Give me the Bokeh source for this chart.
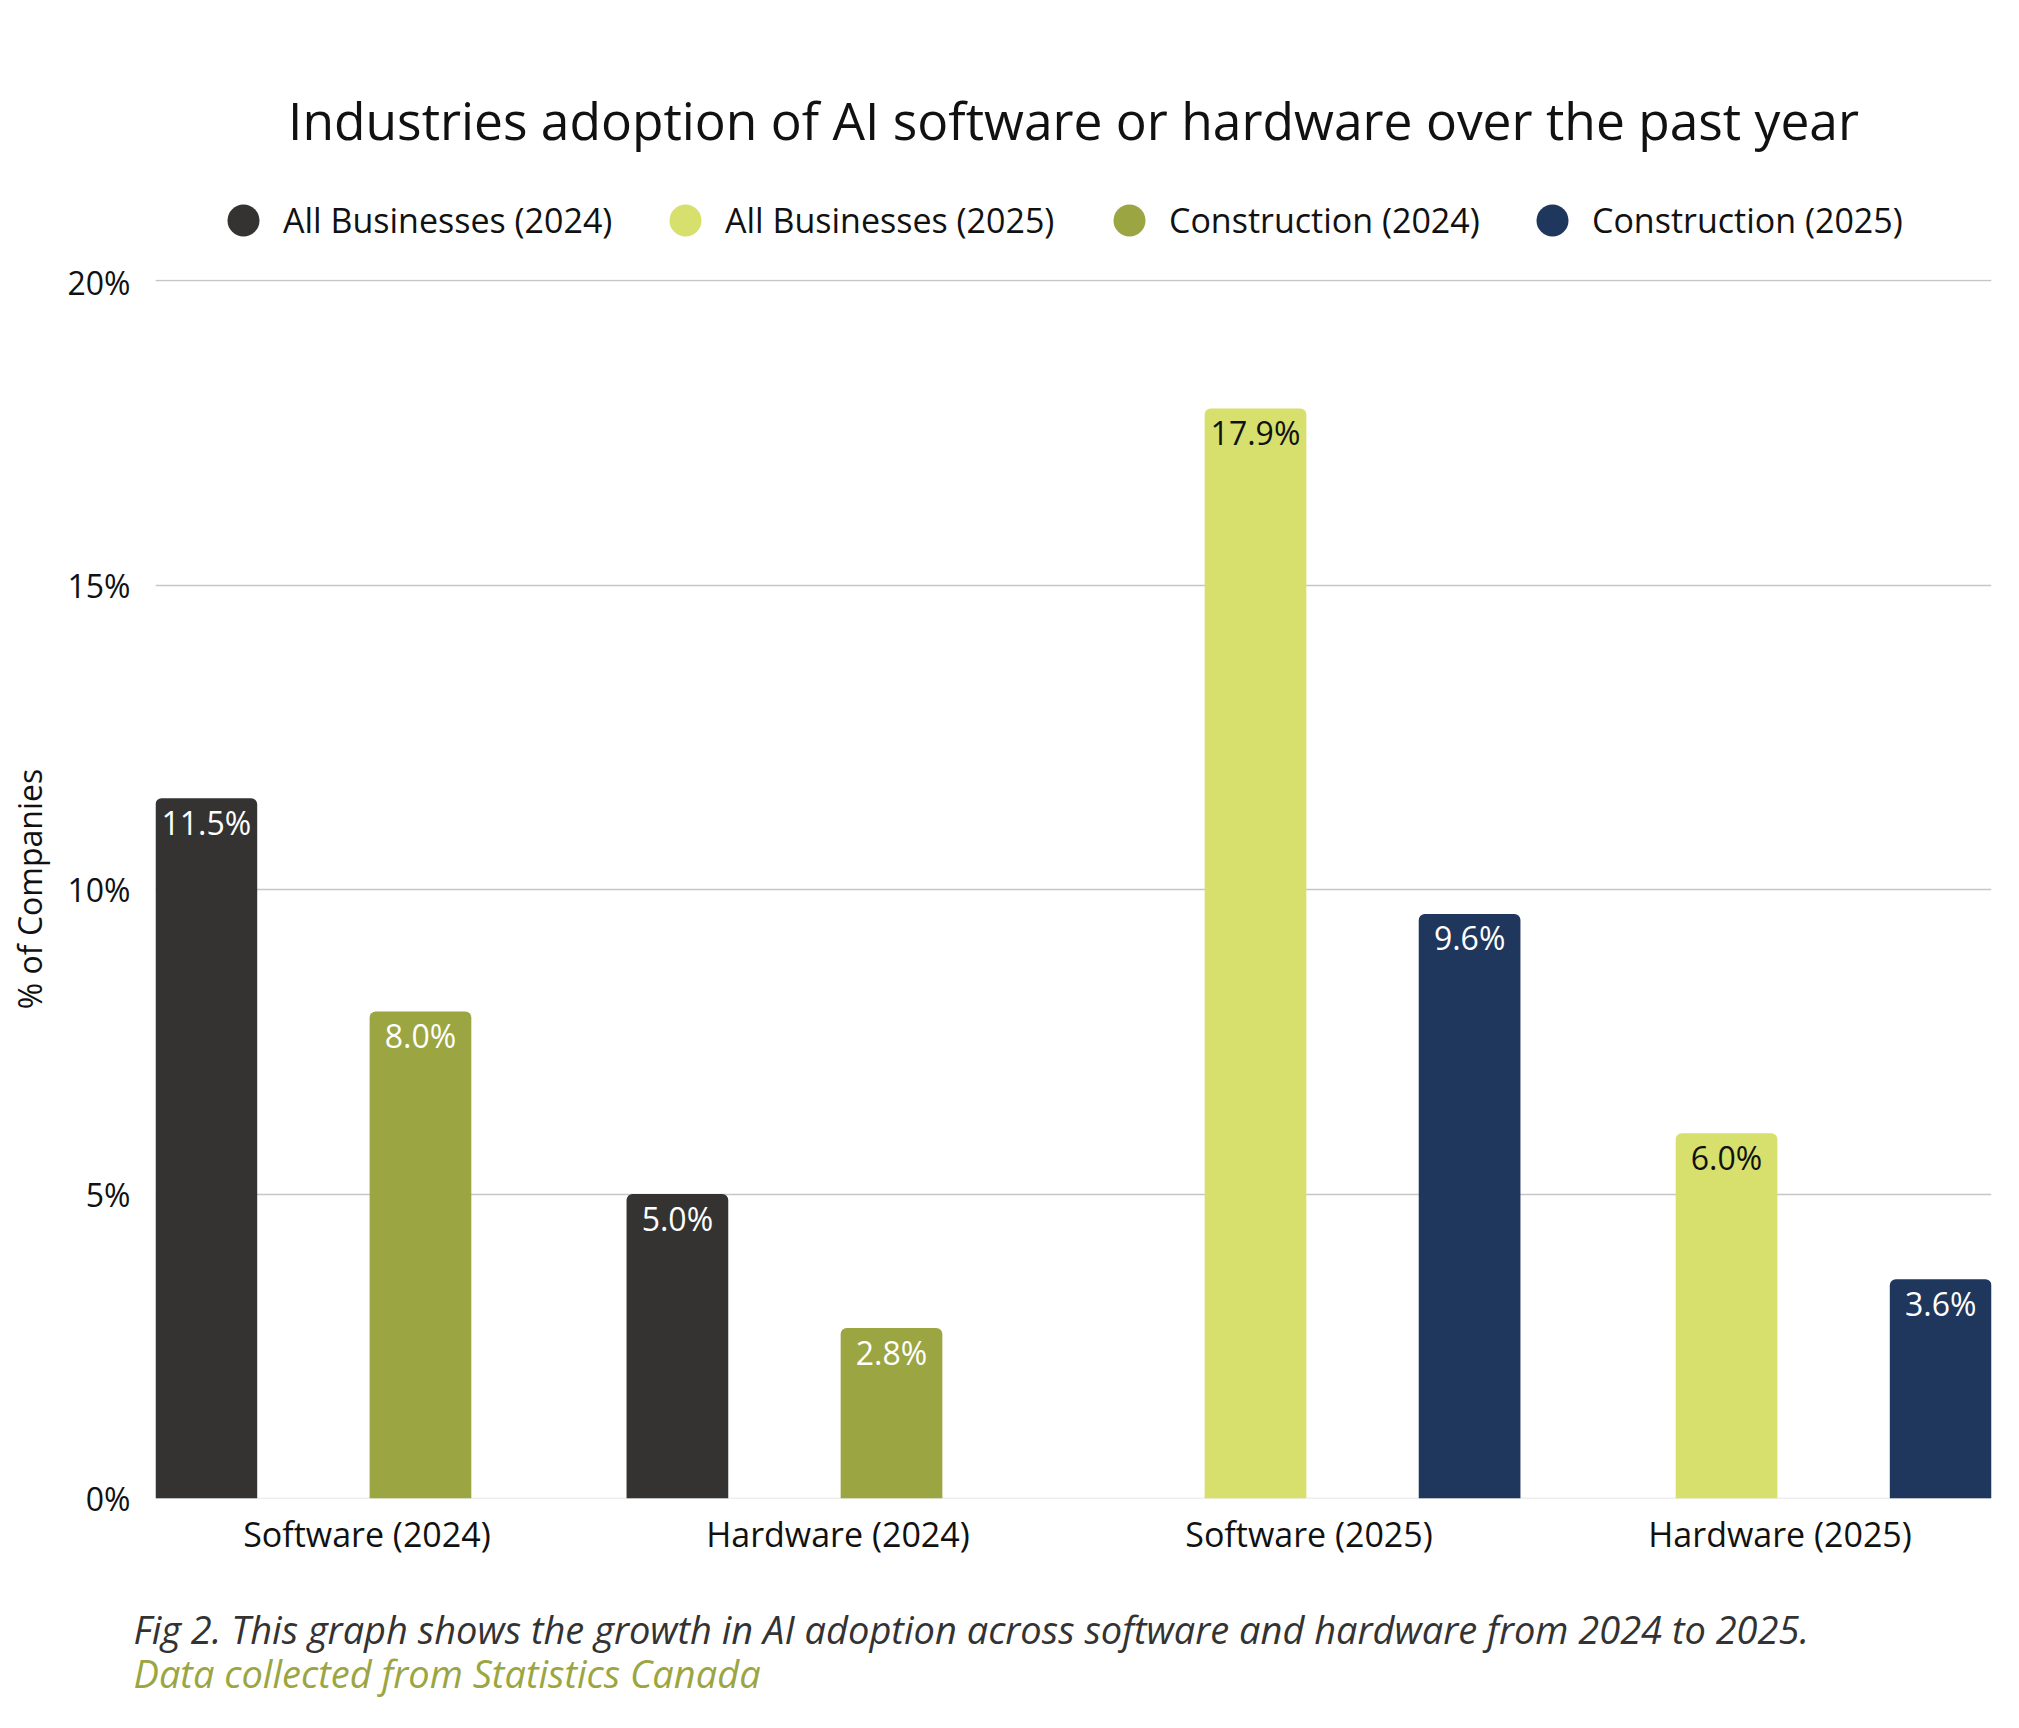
from bokeh.plotting import figure
from bokeh.layouts import column
from bokeh.models import (ColumnDataSource, FixedTicker, Legend, LegendItem, Label,
                          Span, PrintfTickFormatter)
from bokeh.core.properties import value
from bokeh.embed import file_html
from bokeh.resources import INLINE

# ---------------- data ----------------
categories = ["Software (2024)", "Hardware (2024)", "Software (2025)", "Hardware (2025)"]
series_names = ["All Businesses (2024)", "All Businesses (2025)",
                "Construction (2024)", "Construction (2025)"]
all_businesses_2024 = [11.5, 5.0, None, None]
all_businesses_2025 = [None, None, 17.9, 6.0]
construction_2024 = [8.0, 2.8, None, None]
construction_2025 = [None, None, 9.6, 3.6]
series_values = [all_businesses_2024, all_businesses_2025, construction_2024, construction_2025]
y_ticks = [0, 5, 10, 15, 20]

title_text = "Industries adoption of AI software or hardware over the past year"
y_label = "% of Companies"
caption_1 = "Fig 2. This graph shows the growth in AI adoption across software and hardware from 2024 to 2025."
caption_2 = "Data collected from Statistics Canada"

# ---------------- style ----------------
colors = ["#343331", "#D7E06C", "#9BA541", "#1F365D"]
label_colors = ["#FFFFFF", "#111111", "#FFFFFF", "#FFFFFF"]
FONT = "Open Sans"
TEXT = "#111111"

W = 2000
HEAD_H = 260          # title + legend strip
MAIN_H = 1320         # chart
CAP_H = 132           # caption strip
FL, FR = 155, 1991    # frame left / right (px)
TOP_PAD = 19          # chart canvas top -> 20 % line
BOT_PAD = 82          # 0 % line -> chart canvas bottom
LEGEND_CX = [243, 685, 1129, 1552]   # legend swatch centres (px)

SLOTS, GAP, BAR_W = 4, 0.4, 0.95
PITCH = SLOTS + GAP
X_END = PITCH * (len(categories) - 1) + SLOTS
BAR_PAD = (1 - BAR_W) / 2
Y_END = 20.02

# ---------------- header: title + legend ----------------
head = figure(width=W, height=HEAD_H, x_range=(0, 1), y_range=(0, 1),
              output_backend="svg", toolbar_location=None,
              x_axis_type=None, y_axis_type=None,
              min_border_left=FL, min_border_right=W - FR,
              min_border_top=HEAD_H - 80, min_border_bottom=0,
              outline_line_color=None, background_fill_color="white",
              border_fill_color="white")
head.grid.visible = False
head.title.text = title_text
head.title.align = "center"
head.title.offset = 4
head.title.text_font = FONT
head.title.text_font_size = "51.5px"
head.title.text_font_style = "normal"
head.title.text_color = TEXT
head.title.standoff = 52

# ---------------- main chart ----------------
p = figure(width=W, height=MAIN_H, x_range=(BAR_PAD, X_END - BAR_PAD), y_range=(0, Y_END),
           output_backend="svg", toolbar_location=None,
           min_border_left=FL, min_border_right=W - FR,
           min_border_top=TOP_PAD, min_border_bottom=BOT_PAD,
           outline_line_color=None, background_fill_color="white",
           border_fill_color="white")

p.xgrid.visible = False
p.ygrid.ticker = FixedTicker(ticks=[t for t in y_ticks if t > 0])
p.ygrid.grid_line_color = "#c6c6c6"
p.ygrid.grid_line_width = 1.5
p.add_layout(Span(location=0, dimension="width", line_color="#dedede",
                  line_width=1.5, level="underlay"))

p.yaxis.ticker = FixedTicker(ticks=y_ticks)
p.yaxis.formatter = PrintfTickFormatter(format="%d%%")
p.yaxis.axis_line_color = None
p.yaxis.major_tick_line_color = None
p.yaxis.minor_tick_line_color = None
p.yaxis.major_tick_out = 0
p.yaxis.major_tick_in = 0
p.yaxis.major_label_text_font = FONT
p.yaxis.major_label_text_font_size = "32px"
p.yaxis.major_label_text_color = TEXT
p.yaxis.major_label_standoff = 25
p.yaxis.axis_label = y_label
p.yaxis.axis_label_text_font = FONT
p.yaxis.axis_label_text_font_size = "32px"
p.yaxis.axis_label_text_font_style = "normal"
p.yaxis.axis_label_text_color = TEXT
p.yaxis.axis_label_standoff = 13

centers = [i * PITCH + SLOTS / 2 for i in range(len(categories))]
p.xaxis.ticker = FixedTicker(ticks=centers)
p.xaxis.major_label_overrides = {c: cat for c, cat in zip(centers, categories)}
p.xaxis.axis_line_color = None
p.xaxis.major_tick_line_color = None
p.xaxis.minor_tick_line_color = None
p.xaxis.major_tick_out = 0
p.xaxis.major_tick_in = 0
p.xaxis.major_label_text_font = FONT
p.xaxis.major_label_text_font_size = "34px"
p.xaxis.major_label_text_color = TEXT
p.xaxis.major_label_standoff = 12

for s, (name, vals) in enumerate(zip(series_names, series_values)):
    xs, tops, labels = [], [], []
    for i, v in enumerate(vals):
        if v is None:
            continue
        xs.append(i * PITCH + s + 0.5)
        tops.append(v)
        labels.append(f"{v:.1f}%")
    src = ColumnDataSource(dict(x=xs, top=tops, label=labels))
    p.vbar(x="x", top="top", bottom=0, width=BAR_W, source=src,
           fill_color=colors[s], line_color=None, border_radius=(6, 6, 0, 0))
    p.text(x="x", y="top", text="label", source=src, text_align="center",
           text_baseline="middle", y_offset=24, text_font=value(FONT),
           text_font_size="32px", text_color=label_colors[s])
    # zero-size markers in the header only supply the round legend swatch
    dot = head.scatter(x="x", y="top", source=src, marker="circle", size=0,
                       fill_color=colors[s], line_color=None)
    lg = Legend(items=[LegendItem(label=name, renderers=[dot])],
                location=(LEGEND_CX[s] - 40 - FL, 0), orientation="horizontal",
                glyph_width=80, glyph_height=80, label_standoff=-10,
                padding=0, margin=0, spacing=0,
                border_line_color=None, background_fill_alpha=0,
                label_text_font=FONT, label_text_font_size="34px",
                label_text_color=TEXT)
    head.add_layout(lg, "center")

# ---------------- caption strip ----------------
cap = figure(width=W, height=CAP_H, x_range=(0, W), y_range=(0, CAP_H),
             output_backend="svg", toolbar_location=None,
             x_axis_type=None, y_axis_type=None, min_border=0,
             outline_line_color=None, background_fill_color="white",
             border_fill_color="white")
cap.frame_align = False
cap.grid.visible = False
cap_top = HEAD_H + MAIN_H
cap.add_layout(Label(x=133, y=CAP_H - (1628 - cap_top), text=caption_1, text_font=FONT,
                     text_font_size="38px", text_font_style="italic",
                     text_color="#333333", text_baseline="middle", text_align="left"))
cap.add_layout(Label(x=133, y=CAP_H - (1672 - cap_top), text=caption_2, text_font=FONT,
                     text_font_size="38px", text_font_style="italic",
                     text_color="#9BA541", text_baseline="middle", text_align="left"))

layout = column(head, p, cap, spacing=0)
open("out.html", "w").write(file_html(layout, INLINE))
